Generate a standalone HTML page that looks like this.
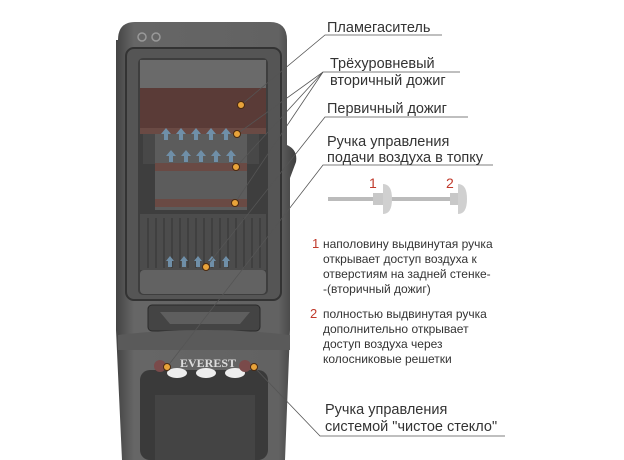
<!DOCTYPE html>
<html><head><meta charset="utf-8"><style>
html,body{margin:0;padding:0;background:#fff;}
svg{display:block;}
text{font-family:"Liberation Sans",sans-serif;fill:#333;}
</style></head><body>
<svg width="624" height="460" viewBox="0 0 624 460" xmlns="http://www.w3.org/2000/svg">
<defs>
<linearGradient id="body" x1="0" x2="1" y1="0" y2="0">
<stop offset="0" stop-color="#444"/><stop offset="0.1" stop-color="#666"/><stop offset="0.9" stop-color="#626262"/><stop offset="1" stop-color="#3e3e3e"/>
</linearGradient>
</defs>
<path d="M118 40 Q118 22 135 22 L270 22 Q287 22 287 40 L287 145 Q298 150 296 162 L290 178 L290 330 L285 460 L122 460 L116 330 L116 40 Z" fill="url(#body)"/>
<circle cx="142" cy="37" r="4" fill="none" stroke="#999" stroke-width="1.5"/>
<circle cx="156" cy="37" r="4" fill="none" stroke="#999" stroke-width="1.5"/>
<rect x="126" y="48" width="155" height="252" rx="8" fill="#555" stroke="#333" stroke-width="2"/>
<rect x="138" y="58" width="130" height="237" rx="5" fill="#3e3e3e"/>
<rect x="140" y="60" width="126" height="28" fill="#6a6a6a"/>
<rect x="140" y="88" width="126" height="40" fill="#5a3b37"/>
<rect x="140" y="128" width="126" height="6" fill="#6a4a44"/>
<rect x="155" y="134" width="92" height="76" fill="#5c5c5c"/>
<rect x="143" y="134" width="12" height="30" fill="#484848"/>
<rect x="247" y="134" width="12" height="30" fill="#484848"/>
<rect x="140" y="214" width="126" height="56" fill="#4c4c4c"/>
<g stroke="#353535" stroke-width="1">
<line x1="148" y1="218" x2="148" y2="268"/><line x1="156" y1="218" x2="156" y2="268"/><line x1="164" y1="218" x2="164" y2="268"/><line x1="172" y1="218" x2="172" y2="268"/><line x1="180" y1="218" x2="180" y2="268"/><line x1="188" y1="218" x2="188" y2="268"/><line x1="196" y1="218" x2="196" y2="268"/><line x1="204" y1="218" x2="204" y2="268"/><line x1="212" y1="218" x2="212" y2="268"/><line x1="220" y1="218" x2="220" y2="268"/><line x1="228" y1="218" x2="228" y2="268"/><line x1="236" y1="218" x2="236" y2="268"/><line x1="244" y1="218" x2="244" y2="268"/><line x1="252" y1="218" x2="252" y2="268"/><line x1="260" y1="218" x2="260" y2="268"/>
</g>
<rect x="140" y="270" width="126" height="24" rx="4" fill="#626262"/>
<g fill="#6f8fa8">
<path d="M166 128 l-5 6 h3 v6 h4 v-6 h3z"/><path d="M181 128 l-5 6 h3 v6 h4 v-6 h3z"/><path d="M196 128 l-5 6 h3 v6 h4 v-6 h3z"/><path d="M211 128 l-5 6 h3 v6 h4 v-6 h3z"/><path d="M226 128 l-5 6 h3 v6 h4 v-6 h3z"/>
<path d="M171 150 l-5 6 h3 v6 h4 v-6 h3z"/><path d="M186 150 l-5 6 h3 v6 h4 v-6 h3z"/><path d="M201 150 l-5 6 h3 v6 h4 v-6 h3z"/><path d="M216 150 l-5 6 h3 v6 h4 v-6 h3z"/><path d="M231 150 l-5 6 h3 v6 h4 v-6 h3z"/>
<path d="M170 256 l-4 5 h2 v6 h4 v-6 h2z"/><path d="M184 256 l-4 5 h2 v6 h4 v-6 h2z"/><path d="M198 256 l-4 5 h2 v6 h4 v-6 h2z"/><path d="M212 256 l-4 5 h2 v6 h4 v-6 h2z"/><path d="M226 256 l-4 5 h2 v6 h4 v-6 h2z"/>
</g>
<rect x="155" y="163" width="92" height="8" fill="#6a4a44"/>
<rect x="155" y="199" width="92" height="8" fill="#6a4a44"/>
<rect x="148" y="305" width="112" height="26" rx="4" fill="#444" stroke="#2a2a2a"/>
<path d="M160 312 L250 312 L240 324 L170 324 Z" fill="#5e5e5e"/>
<path d="M118 335 Q205 325 290 335 L290 350 L118 350 Z" fill="#5a5a5a"/>
<rect x="140" y="370" width="128" height="90" rx="10" fill="#3a3a3a"/>
<rect x="155" y="395" width="100" height="65" fill="#444"/>
<text x="180" y="367" font-size="12" font-weight="bold" style="fill:#ddd;font-family:'Liberation Serif',serif">EVEREST</text>
<ellipse cx="177" cy="373" rx="10" ry="5" fill="#eee"/><ellipse cx="206" cy="373" rx="10" ry="5" fill="#eee"/><ellipse cx="235" cy="373" rx="10" ry="5" fill="#eee"/>
<circle cx="160" cy="366" r="6" fill="#7a4a4a"/><circle cx="245" cy="366" r="6" fill="#7a4a4a"/>
<g stroke="#555" stroke-width="0.8" fill="none">
<polyline points="241,105 325,35 442,35"/>
<polyline points="237,134 323,72 460,72"/>
<line x1="236" y1="167" x2="323" y2="72"/>
<line x1="235" y1="203" x2="323" y2="72"/>
<polyline points="206,267 325,117 468,117"/>
<polyline points="167,367 323,165 493,165"/>
<polyline points="254,367 320,436 505,436"/>
</g>
<g fill="#e8a33a" stroke="#4a2a10" stroke-width="1">
<circle cx="241" cy="105" r="3.5"/><circle cx="237" cy="134" r="3.5"/><circle cx="236" cy="167" r="3.5"/><circle cx="235" cy="203" r="3.5"/><circle cx="206" cy="267" r="3.5"/><circle cx="167" cy="367" r="3.5"/><circle cx="254" cy="367" r="3.5"/>
</g>
<text x="327" y="32" font-size="14.5">Пламегаситель</text>
<text x="330" y="68" font-size="14.5">Трёхуровневый</text>
<text x="330" y="85" font-size="14.5">вторичный дожиг</text>
<text x="327" y="113" font-size="14.5">Первичный дожиг</text>
<text x="327" y="146" font-size="14.5">Ручка управления</text>
<text x="327" y="162" font-size="14.5">подачи воздуха в топку</text>
<rect x="328" y="197" width="130" height="4" fill="#bbb"/>
<rect x="373" y="193" width="10" height="12" fill="#c8c8c8"/>
<path d="M383 184 Q392 184 392 199 Q392 214 383 214 Z" fill="#d0d0d0"/>
<rect x="450" y="193" width="8" height="12" fill="#c8c8c8"/>
<path d="M458 184 Q467 184 467 199 Q467 214 458 214 Z" fill="#d0d0d0"/>
<text x="369" y="188" font-size="14" style="fill:#c0392b">1</text>
<text x="446" y="188" font-size="14" style="fill:#c0392b">2</text>
<g font-size="12">
<text x="312" y="248" font-size="13" style="fill:#c0392b">1</text>
<text x="323" y="248">наполовину выдвинутая ручка</text>
<text x="323" y="263">открывает доступ воздуха к</text>
<text x="323" y="278">отверстиям на задней стенке-</text>
<text x="323" y="293">-(вторичный дожиг)</text>
<text x="310" y="318" font-size="13" style="fill:#c0392b">2</text>
<text x="323" y="318">полностью выдвинутая ручка</text>
<text x="323" y="333">дополнительно открывает</text>
<text x="323" y="348">доступ воздуха через</text>
<text x="323" y="363">колосниковые решетки</text>
</g>
<text x="325" y="414" font-size="14.5">Ручка управления</text>
<text x="325" y="431" font-size="14.5">системой "чистое стекло"</text>
</svg>
</body></html>
